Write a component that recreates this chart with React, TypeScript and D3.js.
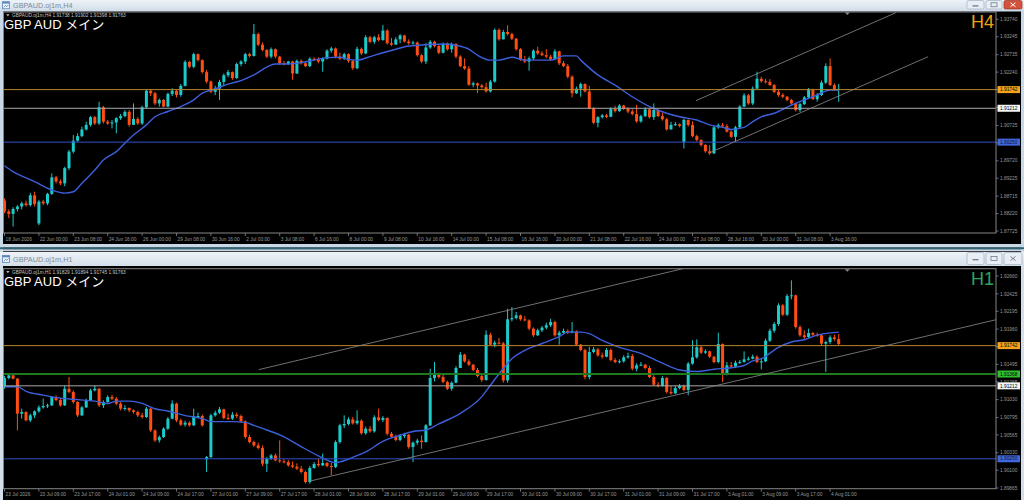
import { useEffect, useRef } from 'react';
import * as d3 from 'd3';

// ---------- H4 window ----------
const h4Title = 'GBPAUD.oj1m,H4';
const h4Header = 'GBPAUD.oj1m,H4  1.91738 1.91902 1.91398 1.91763';
const h4TimeLabels = [
  '18 Jun 2026', '22 Jun 00:00', '23 Jun 08:00', '24 Jun 16:00', '26 Jun 00:00', '29 Jun 08:00',
  '30 Jun 16:00', '2 Jul 00:00', '3 Jul 08:00', '6 Jul 16:00', '8 Jul 00:00', '9 Jul 08:00',
  '10 Jul 16:00', '14 Jul 00:00', '15 Jul 08:00', '16 Jul 16:00', '20 Jul 00:00', '21 Jul 08:00',
  '22 Jul 16:00', '24 Jul 00:00', '27 Jul 08:00', '28 Jul 16:00', '30 Jul 00:00', '31 Jul 08:00',
  '3 Aug 16:00',
];
const h4PriceTicks = [1.9374, 1.93245, 1.92735, 1.9224, 1.9174, 1.91235, 1.90725, 1.9023, 1.8972, 1.89225, 1.88715, 1.8822, 1.87725];
const h4Open0 = 1.8859;
const h4Gaps: Record<number, number> = { 8: 1.8794, 158: 1.9026 };
const h4Close = [
  1.8828, 1.8821, 1.8835, 1.8842, 1.8851, 1.8846, 1.8874, 1.8849, 1.8856, 1.8851,
  1.8878, 1.8925, 1.8913, 1.8908, 1.8951, 1.8998, 1.9029, 1.9042, 1.9061, 1.9074,
  1.9096, 1.9078, 1.9124, 1.9083, 1.9078, 1.9081, 1.9093, 1.9099, 1.9111, 1.9074,
  1.9091, 1.9078, 1.9124, 1.9171, 1.9164, 1.9135, 1.9145, 1.9126, 1.9162, 1.9171,
  1.9159, 1.9185, 1.9253, 1.9239, 1.9275, 1.9258, 1.9224, 1.9197, 1.9168, 1.9177,
  1.9196, 1.9215, 1.9224, 1.9207, 1.9247, 1.9254, 1.9275, 1.927, 1.9332, 1.9302,
  1.9287, 1.9268, 1.9289, 1.9268, 1.9249, 1.9247, 1.9254, 1.922, 1.9256, 1.9249,
  1.9241, 1.9262, 1.926, 1.9254, 1.9262, 1.9285, 1.9291, 1.9268, 1.9262, 1.9275,
  1.9256, 1.9235, 1.929, 1.9277, 1.9323, 1.931, 1.9323, 1.9315, 1.9342, 1.9306,
  1.9302, 1.9317, 1.9328, 1.9311, 1.9306, 1.9308, 1.9272, 1.9254, 1.9294, 1.931,
  1.9298, 1.9279, 1.9304, 1.9289, 1.9304, 1.9268, 1.9241, 1.9234, 1.9188, 1.9192,
  1.9186, 1.9181, 1.9169, 1.9197, 1.9344, 1.9317, 1.9338, 1.9332, 1.9319, 1.9289,
  1.926, 1.9254, 1.9263, 1.9285, 1.9277, 1.9272, 1.9268, 1.926, 1.9283, 1.9249,
  1.9241, 1.9211, 1.9164, 1.9177, 1.919, 1.9169, 1.9121, 1.908, 1.9096, 1.9101,
  1.9097, 1.9119, 1.9113, 1.9129, 1.912, 1.9112, 1.9105, 1.9084, 1.9099, 1.9118,
  1.9096, 1.9116, 1.9099, 1.909, 1.9061, 1.9074, 1.9076, 1.9071, 1.9088, 1.9074,
  1.9042, 1.9031, 1.9017, 1.8999, 1.8993, 1.9067, 1.9073, 1.907, 1.9055, 1.904,
  1.9067, 1.9126, 1.9158, 1.9135, 1.9177, 1.9205, 1.9198, 1.9196, 1.9187, 1.9168,
  1.9159, 1.9154, 1.9145, 1.9135, 1.9116, 1.9133, 1.9152, 1.9173, 1.9147, 1.9159,
  1.9194, 1.9241, 1.9187, 1.91738, 1.91763,
];
const h4High = [
  1.8865, 1.8834, 1.884, 1.8846, 1.8856, 1.8859, 1.8881, 1.8884, 1.8861, 1.8861,
  1.8881, 1.8936, 1.8929, 1.8919, 1.8955, 1.9003, 1.9045, 1.905, 1.9069, 1.9083,
  1.9099, 1.9099, 1.914, 1.9128, 1.9088, 1.9088, 1.9096, 1.9105, 1.9116, 1.9116,
  1.9135, 1.9096, 1.9128, 1.9175, 1.9175, 1.9168, 1.9149, 1.9147, 1.9166, 1.9178,
  1.9173, 1.919, 1.9258, 1.9256, 1.9279, 1.9277, 1.926, 1.923, 1.92, 1.9185,
  1.9202, 1.922, 1.923, 1.9226, 1.9251, 1.9258, 1.9279, 1.9279, 1.9361, 1.9336,
  1.9308, 1.9289, 1.9294, 1.9291, 1.927, 1.9256, 1.9256, 1.9256, 1.926, 1.926,
  1.9251, 1.9266, 1.9266, 1.9266, 1.9266, 1.9289, 1.9296, 1.9294, 1.9279, 1.9279,
  1.9277, 1.9258, 1.9296, 1.9294, 1.9329, 1.9327, 1.9327, 1.9332, 1.9358, 1.9346,
  1.9321, 1.9323, 1.9332, 1.933, 1.9317, 1.9313, 1.9311, 1.9275, 1.9306, 1.9315,
  1.9313, 1.9302, 1.9308, 1.9308, 1.9308, 1.9306, 1.9272, 1.9263, 1.9241, 1.9197,
  1.9194, 1.919, 1.9194, 1.9202, 1.9348, 1.9348, 1.9344, 1.9357, 1.9336, 1.9321,
  1.9292, 1.927, 1.9268, 1.9289, 1.9296, 1.9283, 1.9289, 1.9273, 1.9289, 1.9285,
  1.9256, 1.9247, 1.9215, 1.9183, 1.9194, 1.9192, 1.9185, 1.9124, 1.9099, 1.9105,
  1.9105, 1.9124, 1.9128, 1.9133, 1.9131, 1.9124, 1.9118, 1.9131, 1.9103, 1.9124,
  1.9122, 1.9135, 1.912, 1.9109, 1.9094, 1.9083, 1.9082, 1.9078, 1.9092, 1.909,
  1.9084, 1.9046, 1.9033, 1.902, 1.9017, 1.9071, 1.9078, 1.908, 1.9076, 1.9058,
  1.9071, 1.913, 1.9164, 1.9162, 1.9183, 1.9225, 1.9211, 1.9205, 1.9204, 1.919,
  1.9173, 1.9164, 1.9156, 1.9148, 1.9137, 1.9137, 1.9156, 1.9179, 1.9177, 1.9164,
  1.92, 1.9249, 1.9263, 1.9192, 1.91902,
];
const h4Low = [
  1.8823, 1.8809, 1.8785, 1.8828, 1.8834, 1.8842, 1.8842, 1.8842, 1.8789, 1.8846,
  1.8846, 1.8875, 1.8908, 1.8903, 1.89, 1.8946, 1.8993, 1.9026, 1.9039, 1.9058,
  1.9069, 1.9074, 1.9074, 1.9078, 1.9074, 1.9064, 1.905, 1.9088, 1.9096, 1.9069,
  1.9074, 1.9074, 1.9074, 1.9121, 1.9156, 1.913, 1.9126, 1.9124, 1.9124, 1.9156,
  1.9152, 1.9154, 1.9183, 1.9235, 1.9235, 1.9254, 1.922, 1.9192, 1.9164, 1.9159,
  1.9145, 1.9187, 1.9209, 1.9202, 1.9205, 1.9241, 1.9247, 1.9266, 1.9268, 1.9298,
  1.9283, 1.9264, 1.9263, 1.9263, 1.9244, 1.9243, 1.9244, 1.9202, 1.9219, 1.9245,
  1.9238, 1.9238, 1.9256, 1.9249, 1.9225, 1.926, 1.9279, 1.9263, 1.9258, 1.9258,
  1.9251, 1.923, 1.9232, 1.9272, 1.9275, 1.9306, 1.9304, 1.9311, 1.9313, 1.9302,
  1.9298, 1.9302, 1.9306, 1.9308, 1.9302, 1.9302, 1.9268, 1.9249, 1.9247, 1.929,
  1.9294, 1.9275, 1.9277, 1.9285, 1.9279, 1.9263, 1.9238, 1.923, 1.9185, 1.9181,
  1.9164, 1.9177, 1.9166, 1.9166, 1.9194, 1.9313, 1.9317, 1.9328, 1.9315, 1.9285,
  1.9256, 1.9249, 1.9228, 1.9258, 1.9273, 1.927, 1.9264, 1.9256, 1.9258, 1.9244,
  1.9238, 1.9206, 1.9152, 1.9162, 1.9154, 1.9166, 1.9118, 1.9076, 1.9067, 1.9092,
  1.9093, 1.9096, 1.9109, 1.9111, 1.9116, 1.9107, 1.9101, 1.908, 1.908, 1.9096,
  1.9092, 1.9088, 1.9096, 1.9086, 1.9058, 1.9061, 1.9071, 1.9067, 1.9007, 1.9069,
  1.9039, 1.9027, 1.9012, 1.8995, 1.8989, 1.8991, 1.9063, 1.9067, 1.9052, 1.9037,
  1.9026, 1.9063, 1.9124, 1.9131, 1.913, 1.9175, 1.9194, 1.9192, 1.9185, 1.9164,
  1.9154, 1.915, 1.9141, 1.9131, 1.9112, 1.9111, 1.913, 1.9148, 1.9145, 1.914,
  1.9156, 1.919, 1.9185, 1.9171, 1.91398,
];
// moving average: [bar, price]
const h4Ma: [number, number][] = [
  [0, 1.8958], [2, 1.8941], [7, 1.8913], [11, 1.8889], [14, 1.888], [16, 1.8884], [18, 1.8908],
  [21, 1.8946], [23, 1.8974], [26, 1.8998], [28, 1.9022], [30, 1.9045], [33, 1.9074], [35, 1.9097],
  [38, 1.9112], [41, 1.9126], [44, 1.9145], [46, 1.9164], [49, 1.9176], [52, 1.919], [55, 1.92],
  [58, 1.9216], [61, 1.9238], [63, 1.9247], [66, 1.9247], [69, 1.9251], [72, 1.9258], [75, 1.9265],
  [78, 1.9266], [80, 1.926], [82, 1.9258], [85, 1.9268], [88, 1.9279], [91, 1.9289], [94, 1.9298],
  [97, 1.9301], [100, 1.9303], [103, 1.9304], [105, 1.93], [108, 1.9289], [110, 1.9272], [113, 1.9258],
  [115, 1.9258], [118, 1.9266], [121, 1.9258], [127, 1.9258], [130, 1.927], [133, 1.927], [134, 1.9258],
  [138, 1.9216], [142, 1.9187], [146, 1.9154], [150, 1.9126], [154, 1.9107], [157, 1.9097], [161, 1.9088],
  [164, 1.9074], [167, 1.9067], [169, 1.9061], [172, 1.9067], [174, 1.9083], [176, 1.9097], [179, 1.9107],
  [183, 1.913], [186, 1.9145], [189, 1.9159], [192, 1.9173], [194, 1.9173],
];
// trend channel: [bar1, price1, bar2, price2]
const h4Channel: [number, number, number, number][] = [
  [160.8, 1.91428, 207.3, 1.93928],
  [164, 1.8995, 214.8, 1.92677],
];

// ---------- H1 window ----------
const h1Title = 'GBPAUD.oj1m,H1';
const h1Header = 'GBPAUD.oj1m,H1  1.91829 1.91894 1.91745 1.91763';
const h1TimeLabels = [
  '23 Jul 2026', '23 Jul 09:00', '23 Jul 17:00', '24 Jul 01:00', '24 Jul 09:00', '24 Jul 17:00',
  '27 Jul 01:00', '27 Jul 09:00', '27 Jul 17:00', '28 Jul 01:00', '28 Jul 09:00', '28 Jul 17:00',
  '29 Jul 01:00', '29 Jul 09:00', '29 Jul 17:00', '30 Jul 01:00', '30 Jul 09:00', '30 Jul 17:00',
  '31 Jul 01:00', '31 Jul 09:00', '31 Jul 17:00', '3 Aug 01:00', '3 Aug 09:00', '3 Aug 17:00',
  '4 Aug 01:00',
];
const h1PriceTicks = [1.9266, 1.92425, 1.92195, 1.9196, 1.9173, 1.91495, 1.91265, 1.9103, 1.90795, 1.90565, 1.9033, 1.901, 1.89865];
const h1Open0 = 1.91196;
const h1Gaps: Record<number, number> = { 47: 1.90243 };
const h1Close = [
  1.91315, 1.9135, 1.91306, 1.90845, 1.90867, 1.90757, 1.90823, 1.90876, 1.90928, 1.90946,
  1.90955, 1.91065, 1.91025, 1.90955, 1.91174, 1.9113, 1.90999, 1.90823, 1.90928, 1.91021,
  1.91152, 1.91174, 1.90955, 1.90999, 1.91065, 1.91043, 1.90977, 1.90911, 1.9092, 1.90889,
  1.90867, 1.90823, 1.90801, 1.90911, 1.90625, 1.90493, 1.90537, 1.90647, 1.90779, 1.90977,
  1.90757, 1.907, 1.90726, 1.90691, 1.9081, 1.90814, 1.90691, 1.90273, 1.90823, 1.90858,
  1.90902, 1.90788, 1.90779, 1.90832, 1.90814, 1.90744, 1.90537, 1.90471, 1.90427, 1.90392,
  1.90185, 1.90252, 1.90295, 1.90229, 1.90216, 1.90207, 1.90164, 1.90146, 1.9012, 1.90076,
  1.89944, 1.90128, 1.90181, 1.90164, 1.90194, 1.90155, 1.90142, 1.90471, 1.90691, 1.90709,
  1.9077, 1.90718, 1.90753, 1.90586, 1.90647, 1.90612, 1.90797, 1.90762, 1.90788, 1.90581,
  1.90542, 1.90498, 1.90551, 1.90568, 1.90405, 1.90463, 1.90489, 1.90471, 1.90691, 1.91315,
  1.91359, 1.91328, 1.91262, 1.91174, 1.91253, 1.91447, 1.91623, 1.91535, 1.91491, 1.91421,
  1.91341, 1.91289, 1.91886, 1.91755, 1.91781, 1.91772, 1.91284, 1.92089, 1.92106, 1.92141,
  1.92089, 1.92075, 1.91966, 1.91878, 1.91944, 1.91979, 1.9201, 1.92053, 1.91878, 1.91913,
  1.91935, 1.91922, 1.9193, 1.91755, 1.91684, 1.91328, 1.91658, 1.91693, 1.91614, 1.91596,
  1.91684, 1.91552, 1.91526, 1.91535, 1.91588, 1.91605, 1.91438, 1.91482, 1.91491, 1.91447,
  1.91328, 1.91227, 1.9121, 1.91315, 1.9113, 1.91113, 1.91183, 1.9121, 1.91157, 1.91504,
  1.91588, 1.9172, 1.91649, 1.91667, 1.91596, 1.91526, 1.91763, 1.91368, 1.91482, 1.91465,
  1.91517, 1.91526, 1.91561, 1.9157, 1.91596, 1.91526, 1.91535, 1.91807, 1.91939, 1.92027,
  1.92273, 1.9215, 1.92396, 1.92405, 1.91987, 1.91878, 1.91856, 1.91908, 1.91886, 1.91878,
  1.91768, 1.9179, 1.91851, 1.91829, 1.91763,
];
const h1High = [
  1.91341, 1.91372, 1.91359, 1.91315, 1.90911, 1.90876, 1.90845, 1.90889, 1.90955, 1.91043,
  1.90977, 1.91078, 1.91087, 1.91052, 1.91218, 1.91328, 1.91152, 1.91008, 1.90946, 1.91043,
  1.91174, 1.91218, 1.91183, 1.91021, 1.91087, 1.91095, 1.91065, 1.90999, 1.90955, 1.90928,
  1.90902, 1.90885, 1.90858, 1.90933, 1.9092, 1.90638, 1.90559, 1.90665, 1.90801, 1.91021,
  1.9099, 1.90779, 1.90753, 1.90744, 1.90911, 1.90858, 1.90832, 1.90286, 1.90845, 1.90885,
  1.90933, 1.90911, 1.90845, 1.90867, 1.90858, 1.90832, 1.90757, 1.90568, 1.90489, 1.90463,
  1.90427, 1.90273, 1.90313, 1.90318, 1.90493, 1.90243, 1.90234, 1.90216, 1.9019, 1.90155,
  1.90093, 1.90155, 1.90207, 1.90252, 1.90318, 1.90207, 1.90199, 1.90493, 1.90713, 1.90823,
  1.90797, 1.90801, 1.90889, 1.9077, 1.90674, 1.90682, 1.90823, 1.90911, 1.90814, 1.90797,
  1.90603, 1.90568, 1.90577, 1.90594, 1.90577, 1.9048, 1.90515, 1.90559, 1.90709, 1.91438,
  1.91526, 1.91385, 1.91372, 1.9128, 1.91271, 1.91473, 1.91658, 1.91636, 1.91561, 1.915,
  1.91447, 1.91359, 1.91944, 1.91913, 1.91807, 1.91843, 1.9179, 1.92229, 1.92251, 1.92185,
  1.9215, 1.92133, 1.92089, 1.91983, 1.91966, 1.92001, 1.92045, 1.92097, 1.92071, 1.91939,
  1.91966, 1.91957, 1.92053, 1.91944, 1.91763, 1.91702, 1.91724, 1.91724, 1.91711, 1.91649,
  1.91711, 1.91702, 1.91579, 1.91561, 1.91614, 1.91649, 1.91631, 1.91509, 1.91526, 1.915,
  1.91473, 1.9135, 1.91262, 1.91341, 1.91328, 1.9121, 1.9121, 1.91236, 1.91227, 1.91526,
  1.91812, 1.91825, 1.91737, 1.91693, 1.91675, 1.91605, 1.91913, 1.91772, 1.91526, 1.91526,
  1.91544, 1.91552, 1.91667, 1.91596, 1.91623, 1.91614, 1.9157, 1.91834, 1.91966, 1.92053,
  1.923, 1.92291, 1.92423, 1.92603, 1.92414, 1.9201, 1.91944, 1.91966, 1.91922, 1.91913,
  1.91895, 1.91807, 1.91878, 1.91886, 1.91894,
];
const h1Low = [
  1.91174, 1.91297, 1.91297, 1.90625, 1.90779, 1.90744, 1.90735, 1.90788, 1.90858, 1.90911,
  1.9092, 1.90946, 1.91008, 1.90937, 1.90946, 1.91113, 1.90977, 1.90801, 1.90814, 1.9092,
  1.91008, 1.91139, 1.90933, 1.9092, 1.9099, 1.91025, 1.90955, 1.90889, 1.90885, 1.90867,
  1.90845, 1.90801, 1.90779, 1.90788, 1.90603, 1.90471, 1.90463, 1.90524, 1.9063, 1.9077,
  1.90735, 1.90682, 1.90674, 1.90674, 1.90682, 1.90788, 1.90674, 1.90076, 1.9026, 1.90805,
  1.90841, 1.9077, 1.90762, 1.90762, 1.90788, 1.90726, 1.90515, 1.90454, 1.90405, 1.90375,
  1.90155, 1.90076, 1.90234, 1.90216, 1.90199, 1.9019, 1.90146, 1.90128, 1.90102, 1.90058,
  1.89926, 1.89922, 1.9012, 1.90146, 1.90155, 1.90137, 1.90032, 1.90128, 1.90449, 1.90656,
  1.90691, 1.907, 1.907, 1.90568, 1.90568, 1.90594, 1.90594, 1.90744, 1.90735, 1.90559,
  1.90524, 1.9048, 1.9048, 1.90524, 1.90383, 1.90207, 1.90436, 1.90383, 1.90463, 1.90682,
  1.91271, 1.91306, 1.91245, 1.91157, 1.91148, 1.91245, 1.91447, 1.91517, 1.91473, 1.91403,
  1.91324, 1.91262, 1.9128, 1.91737, 1.9172, 1.91755, 1.91253, 1.91253, 1.92062, 1.92089,
  1.92071, 1.92062, 1.91944, 1.91856, 1.91869, 1.91922, 1.91957, 1.91987, 1.9186, 1.91755,
  1.91895, 1.91895, 1.91904, 1.91737, 1.91667, 1.91297, 1.91297, 1.9164, 1.91596, 1.9157,
  1.91588, 1.91535, 1.91509, 1.91509, 1.91517, 1.9157, 1.91416, 1.91403, 1.91473, 1.91429,
  1.91315, 1.9121, 1.91192, 1.91201, 1.91113, 1.91095, 1.91104, 1.91166, 1.91139, 1.91087,
  1.91491, 1.9157, 1.91631, 1.91631, 1.91579, 1.91509, 1.91509, 1.91262, 1.9135, 1.91447,
  1.91447, 1.915, 1.91517, 1.91544, 1.91561, 1.91509, 1.91429, 1.91526, 1.9179, 1.91913,
  1.92001, 1.92133, 1.92133, 1.92352, 1.91966, 1.9186, 1.91825, 1.91843, 1.91869, 1.9186,
  1.91746, 1.91394, 1.91763, 1.91807, 1.91745,
];
const h1Ma: [number, number][] = [
  [0, 1.912], [3, 1.912], [5, 1.9114], [9, 1.9109], [13, 1.9105], [17, 1.9103], [21, 1.9101],
  [24, 1.9098], [26, 1.9101], [29, 1.9101], [32, 1.9098], [35, 1.9091], [38, 1.9088], [42, 1.9082],
  [46, 1.9078], [48, 1.9074], [53, 1.9074], [56, 1.9073], [58, 1.9069], [61, 1.9063], [65, 1.9054],
  [69, 1.9041], [73, 1.9029], [77, 1.902], [78, 1.9021], [81, 1.9027], [84, 1.9034], [88, 1.9048],
  [92, 1.9056], [95, 1.9061], [98, 1.9063], [101, 1.9071], [106, 1.9085], [111, 1.9107], [113, 1.9122],
  [116, 1.9144], [118, 1.9157], [121, 1.9168], [125, 1.9177], [129, 1.9186], [131, 1.9192], [134, 1.9192],
  [136, 1.919], [139, 1.9181], [143, 1.9172], [148, 1.9164], [153, 1.9151], [157, 1.9142], [161, 1.914],
  [165, 1.9143], [169, 1.9145], [172, 1.9148], [174, 1.9154], [176, 1.9157], [180, 1.9172], [183, 1.9179],
  [186, 1.9182], [189, 1.9188], [192, 1.9191], [194, 1.9192],
];
const h1Channel: [number, number, number, number][] = [
  [59.1, 1.91425, 157.8, 1.92757],
  [71.1, 1.89957, 231, 1.92089],
];

// horizontal lines drawn on both windows
type Level = { price: number; line: string; box: string; ink: string; width: number };
const h4Levels: Level[] = [
  { price: 1.91742, line: '#b8862e', box: '#f2a21c', ink: '#000', width: 1 },
  { price: 1.91212, line: '#a9a9a9', box: '#f4f4f4', ink: '#000', width: 1 },
  { price: 1.9025, line: '#3050c8', box: '#3f68dc', ink: '#0a1030', width: 1 },
];
const h1Levels: Level[] = [
  { price: 1.91742, line: '#b8862e', box: '#f2a21c', ink: '#000', width: 1 },
  { price: 1.91368, line: '#1f7a1f', box: '#2fbf2f', ink: '#000', width: 2 },
  { price: 1.91212, line: '#a9a9a9', box: '#f4f4f4', ink: '#000', width: 1 },
  { price: 1.9025, line: '#3050c8', box: '#3f68dc', ink: '#0a1030', width: 1 },
];

const BULL = '#1ccaca';
const BEAR = '#ff4e14';
const AXIS = '#9a9a9a';
const SANS = '"Liberation Sans", Arial, sans-serif';

interface Panel {
  key: string;
  tf: string;
  tfColor: string;
  header: string;
  top: number;
  bottom: number;
  priceDomain: [number, number];
  pixelRange: [number, number];
  ticks: number[];
  timeLabels: string[];
  open0: number;
  gaps: Record<number, number>;
  close: number[];
  high: number[];
  low: number[];
  ma: [number, number][];
  channel: [number, number, number, number][];
  levels: Level[];
  marker: number;
}

const LEFT = 3;
const RIGHT = 996;

type Sel = d3.Selection<SVGSVGElement, unknown, null, undefined>;

const drawWindow = (svg: Sel, top: number, titleBottom: number, blackTop: number, title: string, active: boolean) => {
  const gid = `title-${top}`;
  const grad = svg.select('defs').append('linearGradient').attr('id', gid).attr('x1', 0).attr('y1', 0).attr('x2', 0).attr('y2', 1);
  grad.append('stop').attr('offset', '0%').attr('stop-color', '#eef3f8');
  grad.append('stop').attr('offset', '100%').attr('stop-color', '#d3dee9');
  svg.append('rect').attr('x', 0).attr('y', top).attr('width', 1024).attr('height', titleBottom - top).attr('fill', `url(#${gid})`);

  // window icon
  const ic = svg.append('g').attr('transform', `translate(2.5,${(top + titleBottom) / 2 - 3.5})`);
  ic.append('rect').attr('width', 7).attr('height', 7).attr('fill', '#eaf2fb').attr('stroke', '#5b86bd').attr('stroke-width', 0.8);
  ic.append('rect').attr('width', 7).attr('height', 1.8).attr('fill', '#5b86bd');
  ic.append('path').attr('d', 'M1.2,5.6 L3,3.8 L4.4,4.8 L6,3').attr('fill', 'none').attr('stroke', '#3d6fae').attr('stroke-width', 0.7);

  svg.append('text').attr('x', 13).attr('y', (top + titleBottom) / 2 + 2.5)
    .attr('font-family', SANS).attr('font-size', 7.3).attr('fill', '#7d8b99').text(title);

  // caption buttons
  const by = top + 0.5;
  const bh = titleBottom - top - 2;
  [[967, 17], [986, 16], [1004, 18]].forEach(([bx, bw], k) => {
    const isClose = k === 2 && active;
    svg.append('rect').attr('x', bx).attr('y', by).attr('width', bw).attr('height', bh).attr('rx', 1.5)
      .attr('fill', isClose ? '#d4513c' : '#e9eef4').attr('stroke', isClose ? '#9c3526' : '#9fb0c0').attr('stroke-width', 0.7);
    const cx = bx + bw / 2;
    const cy = by + bh / 2;
    const ink = isClose ? '#ffffff' : '#6d7c8b';
    if (k === 0) {
      svg.append('rect').attr('x', cx - 3).attr('y', cy + 0.5).attr('width', 6).attr('height', 1.3).attr('fill', ink);
    } else if (k === 1) {
      svg.append('rect').attr('x', cx - 3).attr('y', cy - 2).attr('width', 6).attr('height', 4).attr('fill', 'none').attr('stroke', ink).attr('stroke-width', 0.8);
    } else {
      svg.append('path').attr('d', `M${cx - 2.5},${cy - 2} L${cx + 2.5},${cy + 2} M${cx + 2.5},${cy - 2} L${cx - 2.5},${cy + 2}`)
        .attr('stroke', ink).attr('stroke-width', 1);
    }
  });

  svg.append('rect').attr('x', LEFT).attr('y', blackTop).attr('width', 1021 - LEFT).attr('height', 500).attr('fill', '#000');
};

const drawPanel = (svg: Sel, p: Panel) => {
  const n = p.close.length;
  const x = d3.scaleLinear().domain([0, n - 1]).range([4.5, 838.7]);
  const y = d3.scaleLinear().domain(p.priceDomain).range(p.pixelRange);

  const clipId = `clip-${p.key}`;
  svg.select('defs').append('clipPath').attr('id', clipId)
    .append('rect').attr('x', LEFT).attr('y', p.top).attr('width', RIGHT - LEFT).attr('height', p.bottom - p.top);

  const g = svg.append('g');
  const plot = g.append('g').attr('clip-path', `url(#${clipId})`);

  // candles
  const bars = d3.range(n).map(i => {
    const o = i === 0 ? p.open0 : (p.gaps[i] ?? p.close[i - 1]);
    const c = p.close[i];
    return { i, o, c, h: Math.max(p.high[i], o, c), l: Math.min(p.low[i], o, c) };
  });
  const candle = plot.selectAll('g.bar').data(bars).enter().append('g').attr('class', 'bar');
  candle.append('line')
    .attr('x1', d => x(d.i)).attr('x2', d => x(d.i))
    .attr('y1', d => y(d.h)).attr('y2', d => y(d.l))
    .attr('stroke', d => (d.c >= d.o ? BULL : BEAR)).attr('stroke-width', 1);
  candle.append('rect')
    .attr('x', d => x(d.i) - 1.5).attr('width', 3)
    .attr('y', d => y(Math.max(d.o, d.c)))
    .attr('height', d => Math.max(1, Math.abs(y(d.o) - y(d.c))))
    .attr('fill', d => (d.c >= d.o ? BULL : BEAR));

  // moving average
  const maLine = d3.line<[number, number]>().x(d => x(d[0])).y(d => y(d[1])).curve(d3.curveMonotoneX);
  plot.append('path').attr('d', maLine(p.ma)).attr('fill', 'none').attr('stroke', '#3d5fdc').attr('stroke-width', 1.4);

  // horizontal lines
  p.levels.forEach(lv => {
    plot.append('line').attr('x1', LEFT).attr('x2', RIGHT).attr('y1', y(lv.price)).attr('y2', y(lv.price))
      .attr('stroke', lv.line).attr('stroke-width', lv.width);
  });

  // channel
  p.channel.forEach(([i1, p1, i2, p2]) => {
    plot.append('line').attr('x1', x(i1)).attr('y1', y(p1)).attr('x2', x(i2)).attr('y2', y(p2))
      .attr('stroke', '#8c8c8c').attr('stroke-width', 0.8);
  });

  // frame
  g.append('rect').attr('x', LEFT + 0.5).attr('y', p.top).attr('width', RIGHT - LEFT - 0.5).attr('height', p.bottom - p.top)
    .attr('fill', 'none').attr('stroke', '#858585').attr('stroke-width', 1);

  // chart-shift marker
  const mx = x(p.marker);
  g.append('path').attr('d', `M${mx - 2.5},${p.top + 0.5} L${mx + 2.5},${p.top + 0.5} L${mx},${p.top + 3}Z`).attr('fill', '#8c8c8c');

  // price axis
  p.ticks.forEach(t => {
    const ty = y(t);
    g.append('line').attr('x1', RIGHT).attr('x2', RIGHT + 2.5).attr('y1', ty).attr('y2', ty).attr('stroke', AXIS).attr('stroke-width', 0.7);
    g.append('text').attr('x', 1000).attr('y', ty + 1.7).attr('font-family', SANS).attr('font-size', 4.8).attr('fill', AXIS).text(t.toFixed(5));
  });
  p.levels.forEach(lv => {
    const ly = y(lv.price);
    g.append('rect').attr('x', 997.5).attr('y', ly - 3.5).attr('width', 22.5).attr('height', 7).attr('fill', lv.box);
    g.append('text').attr('x', 1000).attr('y', ly + 1.7).attr('font-family', SANS).attr('font-size', 4.8).attr('fill', lv.ink).text(lv.price.toFixed(5));
  });

  // time axis, one label every 8 bars
  p.timeLabels.forEach((lab, k) => {
    const tx = x(k * 8);
    g.append('line').attr('x1', tx).attr('x2', tx).attr('y1', p.bottom).attr('y2', p.bottom + 3).attr('stroke', AXIS).attr('stroke-width', 0.7);
    g.append('text').attr('x', tx + 1).attr('y', p.bottom + 7.5).attr('font-family', SANS).attr('font-size', 4.8).attr('fill', AXIS).text(lab);
  });

  // header texts
  g.append('path').attr('d', `M6.2,${p.top + 2.3} L9.6,${p.top + 2.3} L7.9,${p.top + 4.6}Z`).attr('fill', '#b9b9b9');
  g.append('text').attr('x', 12).attr('y', p.top + 5.4).attr('font-family', SANS).attr('font-size', 4.8).attr('fill', '#c4c4c4').text(p.header);
  g.append('text').attr('x', 4).attr('y', p.top + 17.2)
    .attr('font-family', '"Liberation Sans", Arial, "Noto Sans CJK JP", sans-serif').attr('font-size', 13).attr('fill', '#ffffff')
    .text('GBP AUD メイン');
  g.append('text').attr('x', 994).attr('y', p.top + 16.3).attr('text-anchor', 'end')
    .attr('font-family', SANS).attr('font-size', 18).attr('fill', p.tfColor).text(p.tf);
};

const h4Panel: Panel = {
  key: 'h4', tf: 'H4', tfColor: '#f0a214', header: h4Header, top: 12, bottom: 233,
  priceDomain: [1.87725, 1.9374], pixelRange: [231, 19.3], ticks: h4PriceTicks, timeLabels: h4TimeLabels,
  open0: h4Open0, gaps: h4Gaps, close: h4Close, high: h4High, low: h4Low, ma: h4Ma,
  channel: h4Channel, levels: h4Levels, marker: 196,
};
const h1Panel: Panel = {
  key: 'h1', tf: 'H1', tfColor: '#2fa262', header: h1Header, top: 268.7, bottom: 488.7,
  priceDomain: [1.89865, 1.9266], pixelRange: [488, 276], ticks: h1PriceTicks, timeLabels: h1TimeLabels,
  open0: h1Open0, gaps: h1Gaps, close: h1Close, high: h1High, low: h1Low, ma: h1Ma,
  channel: h1Channel, levels: h1Levels, marker: 196,
};

export default function App() {
  const ref = useRef<SVGSVGElement>(null);

  useEffect(() => {
    document.body.style.margin = '0';
    if (!ref.current) return;
    const svg = d3.select(ref.current);
    svg.selectAll('*').remove();
    svg.append('defs');

    // MDI background + window frames
    svg.append('rect').attr('width', 1024).attr('height', 500).attr('fill', '#c8d6e4');
    svg.append('rect').attr('x', 0).attr('y', 0).attr('width', 1024).attr('height', 247.5).attr('fill', '#c9d8e7');
    svg.append('rect').attr('x', 0).attr('y', 247.5).attr('width', 1024).attr('height', 1.8).attr('fill', '#2a6676');
    svg.append('rect').attr('x', 0).attr('y', 251).attr('width', 1024).attr('height', 249).attr('fill', '#d3dee9');

    drawWindow(svg, 0, 10.5, 11.5, h4Title, true);
    svg.append('rect').attr('x', LEFT).attr('y', 244).attr('width', 1021 - LEFT).attr('height', 3.5).attr('fill', '#c9d8e7');
    svg.append('rect').attr('x', 0).attr('y', 247.5).attr('width', 1024).attr('height', 1.8).attr('fill', '#2a6676');
    svg.append('rect').attr('x', 0).attr('y', 249.3).attr('width', 1024).attr('height', 2).attr('fill', '#c8d6e4');
    drawWindow(svg, 252, 266, 266.8, h1Title, false);

    drawPanel(svg, h4Panel);
    drawPanel(svg, h1Panel);
  }, []);

  return <svg ref={ref} width={1024} height={500} style={{ display: 'block' }} />;
}
